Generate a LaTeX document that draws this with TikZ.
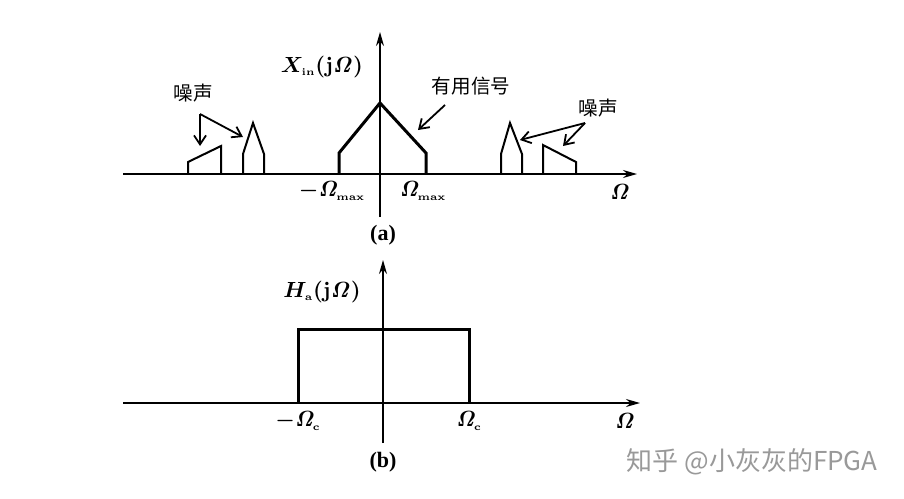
\documentclass[tikz,border=0pt]{standalone}
\usepackage{amsmath}
\usepackage[no-math]{fontspec}
\setmainfont{Liberation Serif}
\newfontfamily\cjk{Noto Sans CJK SC}
\usetikzlibrary{arrows.meta}

\tikzset{
  asse/.style={line width=0.8pt, -{Stealth[length=7pt,width=4pt]}},
  spettro/.style={line width=1.5pt, line join=miter},
  rumore/.style={line width=1pt, line join=miter},
  freccia/.style={line width=0.9pt, -{Straight Barb[length=4.5pt,width=6pt]}},
  etichetta/.style={font=\boldmath\bfseries\fontsize{11}{13}\selectfont, inner sep=1pt},
  cinese/.style={font=\cjk\fontsize{9.8}{11}\selectfont, inner sep=1pt}
}

\begin{document}
\begin{tikzpicture}[x=0.5pt, y=-0.5pt]
  \useasboundingbox (0,0) rectangle (904,498);

  % (a) spettro di ingresso
  \draw[asse] (123,174) -- (637,174);
  \draw[asse] (380,217) -- (380,32);
  \draw[spettro] (339,174) -- (339,153) -- (380,103) -- (426,153) -- (426,174);
  \draw[rumore] (188,174) -- (188,162) -- (221,146) -- (221,174);
  \draw[rumore] (243,174) -- (243,154) -- (253,123) -- (264,154) -- (264,174);
  \draw[rumore] (501,174) -- (501,154) -- (510,123) -- (522,154) -- (522,174);
  \draw[rumore] (543,174) -- (543,145) -- (576,162) -- (576,174);

  % etichette (a)
  \node[etichetta] (xin) at (322,67) {$X_{\scriptscriptstyle\mathrm{in}}(\mathrm{j}\mathit{\Omega})$};
  \node[etichetta] (mmax) at (332,191) {$-\mathit{\Omega}_{\scriptscriptstyle\mathrm{max}}$};
  \node[etichetta] (pmax) at (423,191) {$\mathit{\Omega}_{\scriptscriptstyle\mathrm{max}}$};
  \node[etichetta] (oma) at (620,192) {$\mathit{\Omega}$};
  \node[etichetta] (capa) at (383,235) {(a)};
  \node[cinese] (utile) at (471,86) {有用信号};
  \node[cinese] (rumsx) at (193,93) {噪声};
  \node[cinese] (rumdx) at (598,108) {噪声};

  % frecce
  \coordinate (csx) at (200,114);
  \coordinate (tsx1) at (200,146);
  \coordinate (tsx2) at (243,137);
  \coordinate (cdx) at (585,123);
  \coordinate (tdx1) at (520,140);
  \coordinate (tdx2) at (563,146);
  \coordinate (su) at (445,105);
  \coordinate (tu) at (418,130);
  \draw[freccia] (csx) -- (tsx1);
  \draw[freccia] (csx) -- (tsx2);
  \draw[freccia] (cdx) -- (tdx1);
  \draw[freccia] (cdx) -- (tdx2);
  \draw[freccia] (su) -- (tu);

  % (b) filtro anti-aliasing
  \draw[asse] (123,403) -- (640,403);
  \draw[asse] (383,443) -- (383,260);
  \draw[spettro] (298,403) -- (298,329) -- (469,329) -- (469,403);

  % etichette (b)
  \node[etichetta] (ha) at (322,292) {$H_{\scriptscriptstyle\mathrm{a}}(\mathrm{j}\mathit{\Omega})$};
  \node[etichetta] (mc) at (298,421) {$-\mathit{\Omega}_{\scriptscriptstyle\mathrm{c}}$};
  \node[etichetta] (pc) at (469,421) {$\mathit{\Omega}_{\scriptscriptstyle\mathrm{c}}$};
  \node[etichetta] (omb) at (625,421) {$\mathit{\Omega}$};
  \node[etichetta] (capb) at (383,462) {(b)};

  % filigrana
  \node[font=\cjk\fontsize{13}{15}\selectfont, text=black!40] (marca) at (752,462) {知乎 @小灰灰的FPGA};
\end{tikzpicture}
\end{document}
